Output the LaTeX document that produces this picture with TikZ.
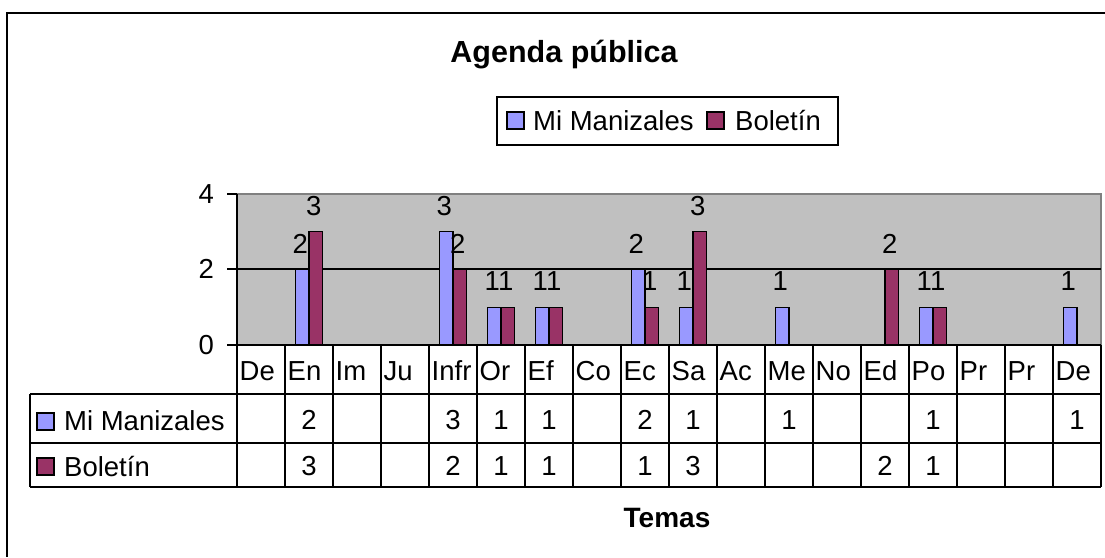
\documentclass[tikz,border=0pt]{standalone}
\usepackage{fontspec}
\setmainfont{Liberation Sans}
\definecolor{serA}{HTML}{9999FF}
\definecolor{serB}{HTML}{993366}
\definecolor{plotbg}{HTML}{C0C0C0}
\definecolor{plotedge}{HTML}{808080}
\tikzset{
  txt/.style={inner sep=0pt, font=\fontsize{27.5}{31}\selectfont},
  boldtxt/.style={inner sep=0pt, font=\bfseries\fontsize{30.5}{34}\selectfont},
  barA/.style={fill=serA, draw=black, line width=1.4pt},
  barB/.style={fill=serB, draw=black, line width=1.4pt},
  tline/.style={line width=1.8pt, draw=black},
  gline/.style={line width=1.5pt, draw=black}
}
\begin{document}
\begin{tikzpicture}[x=1pt,y=-1pt]
\useasboundingbox (0,0) rectangle (1105,557);
\fill[white] (0,0) rectangle (1105,557);
% outer frame (only top and left visible)
\draw[line width=2.2pt] (1105,13) -- (7,13) -- (7,557);
% title
\node[boldtxt] (title) at (564,55) {Agenda pública};
% legend
\draw[line width=1.4pt] (497,97) rectangle (838,145);
\draw[barA] (507,112) rectangle (524,129);
\node[txt, anchor=west] (legA) at (533,121) {Mi Manizales};
\draw[barB] (707,112) rectangle (724,129);
\node[txt, anchor=west] (legB) at (735,121) {Boletín};
% plot area
\fill[plotbg] (237,194) rectangle (1101,345);
\draw[plotedge, line width=1.6pt] (237,194) -- (1101,194) -- (1101,345);
\draw[gline] (227,269) -- (1101,269);
\draw[gline] (227,194) -- (237,194);
\draw[gline] (227,345) -- (1101,345);
\draw[tline] (237,194) -- (237,487);
% y labels
\node[txt, anchor=east] (y4) at (214,194) {4};
\node[txt, anchor=east] (y2) at (214,269) {2};
\node[txt, anchor=east] (y0) at (214,345) {0};
% bars
\foreach \i/\v in {1/2,4/3,5/1,6/1,8/2,9/1,11/1,14/1,17/1}{
  \draw[barA] ({237+48*\i+24-13.4},345) rectangle ({237+48*\i+24},{345-37.75*\v});
  \node[txt] (la\i) at ({237+48*\i+24-8.7},{345-37.75*\v-26}) {\v};
}
\foreach \i/\v in {1/3,4/2,5/1,6/1,8/1,9/3,13/2,14/1}{
  \draw[barB] ({237+48*\i+24},345) rectangle ({237+48*\i+24+13.4},{345-37.75*\v});
  \node[txt] (lb\i) at ({237+48*\i+24+4.7},{345-37.75*\v-26}) {\v};
}
% data table
\draw[tline] (30,394) -- (1101,394);
\draw[tline] (30,443) -- (1101,443);
\draw[tline] (30,487) -- (1101,487);
\draw[tline] (30,394) -- (30,487);
\foreach \k in {1,...,18}{
  \draw[tline] ({237+48*\k},345) -- ({237+48*\k},487);
}
\foreach \i/\t in {0/De,1/En,2/Im,3/Ju,4/Infr,5/Or,6/Ef,7/Co,8/Ec,9/Sa,10/Ac,11/Me,12/No,13/Ed,14/Po,15/Pr,16/Pr,17/De}{
  \node[txt, anchor=west] (cat\i) at ({237+48*\i+2.5},371) {\t};
}
\draw[barA] (37,413) rectangle (54,430);
\node[txt, anchor=west] (rowA) at (64,421) {Mi Manizales};
\draw[barB] (37,458) rectangle (54,475);
\node[txt, anchor=west] (rowB) at (64,467) {Boletín};
\foreach \i/\v in {1/2,4/3,5/1,6/1,8/2,9/1,11/1,14/1,17/1}{
  \node[txt] (ta\i) at ({237+48*\i+24},420) {\v};
}
\foreach \i/\v in {1/3,4/2,5/1,6/1,8/1,9/3,13/2,14/1}{
  \node[txt] (tb\i) at ({237+48*\i+24},466) {\v};
}
% axis title
\node[boldtxt, font=\bfseries\fontsize{28}{32}\selectfont] (temas) at (667,518) {Temas};
\end{tikzpicture}
\end{document}
